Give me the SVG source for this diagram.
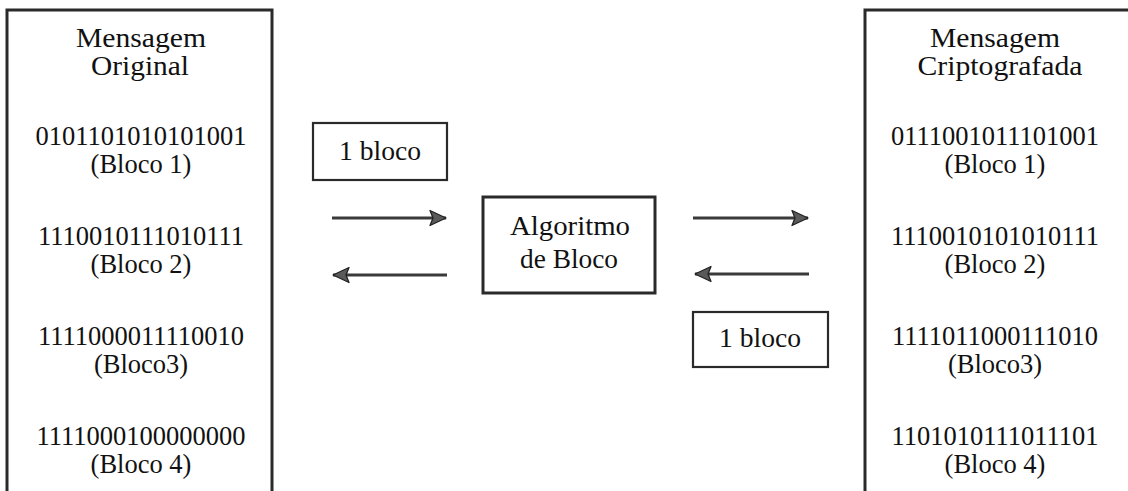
<svg xmlns="http://www.w3.org/2000/svg" width="1128" height="491" viewBox="0 0 1128 491">
  <style>
    .t { font-family: "Liberation Serif", "Times New Roman", serif; font-size: 26.5px; fill: #111; text-anchor: middle; }
    .frame { fill: none; stroke: #2a2a2a; stroke-width: 3; }
    .box { fill: #fff; stroke: #2a2a2a; stroke-width: 2.2; }
    .boxb { fill: #fff; stroke: #2a2a2a; stroke-width: 3; }
    .arrow { stroke: #3a3a3a; stroke-width: 3; fill: none; }
  </style>
  <defs>
    <marker id="head" viewBox="0 0 18 18" refX="17" refY="9" markerWidth="18" markerHeight="18" markerUnits="userSpaceOnUse" orient="auto">
      <polygon points="1,1.5 17,9 1,16.5 4,9" fill="#5a5a5a" stroke="#222" stroke-width="1.3" stroke-linejoin="round"/>
    </marker>
  </defs>
  <rect width="1128" height="491" fill="#fff"/>

  <!-- source message column (open at the bottom) -->
  <g id="original">
    <path class="frame" d="M7,495 V10 H272 V495"/>
    <text class="t" x="141" y="47" textLength="130" lengthAdjust="spacingAndGlyphs">Mensagem</text>
    <text class="t" x="140" y="75" textLength="98" lengthAdjust="spacingAndGlyphs">Original</text>
    <text class="t" x="141" y="145">0101101010101001</text>
    <text class="t" x="141" y="173">(Bloco 1)</text>
    <text class="t" x="141" y="245">1110010111010111</text>
    <text class="t" x="141" y="273">(Bloco 2)</text>
    <text class="t" x="141" y="345">1111000011110010</text>
    <text class="t" x="141" y="373">(Bloco3)</text>
    <text class="t" x="141" y="445">1111000100000000</text>
    <text class="t" x="141" y="473">(Bloco 4)</text>
  </g>

  <!-- encrypted message column (runs past the right edge) -->
  <g id="criptografada">
    <path class="frame" d="M865,495 V10 H1135"/>
    <text class="t" x="995" y="47" textLength="130" lengthAdjust="spacingAndGlyphs">Mensagem</text>
    <text class="t" x="1000" y="75" textLength="165" lengthAdjust="spacingAndGlyphs">Criptografada</text>
    <text class="t" x="995" y="145">0111001011101001</text>
    <text class="t" x="995" y="173">(Bloco 1)</text>
    <text class="t" x="995" y="245">1110010101010111</text>
    <text class="t" x="995" y="273">(Bloco 2)</text>
    <text class="t" x="995" y="345">1111011000111010</text>
    <text class="t" x="995" y="373">(Bloco3)</text>
    <text class="t" x="995" y="445">1101010111011101</text>
    <text class="t" x="995" y="473">(Bloco 4)</text>
  </g>

  <g id="bloco-entrada">
    <rect class="box" x="313" y="123" width="134" height="57"/>
    <text class="t" x="380" y="160" textLength="82" lengthAdjust="spacingAndGlyphs">1 bloco</text>
  </g>

  <g id="algoritmo">
    <rect class="boxb" x="483" y="197" width="172" height="96"/>
    <text class="t" x="570" y="235" textLength="120" lengthAdjust="spacingAndGlyphs">Algoritmo</text>
    <text class="t" x="569" y="268" textLength="98" lengthAdjust="spacingAndGlyphs">de Bloco</text>
  </g>

  <g id="bloco-saida">
    <rect class="box" x="693" y="312" width="135" height="55"/>
    <text class="t" x="760" y="347" textLength="82" lengthAdjust="spacingAndGlyphs">1 bloco</text>
  </g>

  <g id="connectors">
    <line class="arrow" x1="332" y1="218" x2="446" y2="218" marker-end="url(#head)"/>
    <line class="arrow" x1="447" y1="275" x2="333" y2="275" marker-end="url(#head)"/>
    <line class="arrow" x1="693" y1="218" x2="808" y2="218" marker-end="url(#head)"/>
    <line class="arrow" x1="809" y1="274" x2="695" y2="274" marker-end="url(#head)"/>
  </g>
</svg>
